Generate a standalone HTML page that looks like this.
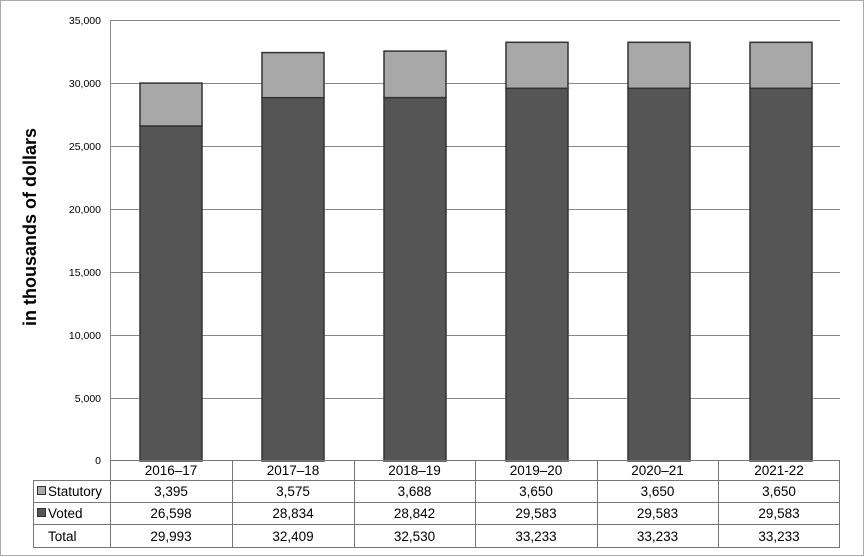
<!DOCTYPE html>
<html><head><style>body{margin:0;background:#fff}svg{display:block}text{font-family:"Liberation Sans",Arial,sans-serif;fill:#000}</style></head><body>
<svg width="864" height="557" xmlns="http://www.w3.org/2000/svg">
<rect x="0.5" y="0.5" width="863" height="555" fill="#fff" stroke="#aaa"/>
<g stroke="#888" stroke-width="1">
<line x1="110" y1="20.5" x2="840" y2="20.5"/>
<line x1="110" y1="83.5" x2="840" y2="83.5"/>
<line x1="110" y1="146.5" x2="840" y2="146.5"/>
<line x1="110" y1="209.5" x2="840" y2="209.5"/>
<line x1="110" y1="272.5" x2="840" y2="272.5"/>
<line x1="110" y1="335.5" x2="840" y2="335.5"/>
<line x1="110" y1="398.5" x2="840" y2="398.5"/>
<line x1="110.5" y1="20" x2="110.5" y2="461"/>
</g>
<g font-size="10.5" text-anchor="end">
<text x="101" y="24">35,000</text><text x="101" y="87">30,000</text><text x="101" y="150">25,000</text><text x="101" y="213">20,000</text><text x="101" y="276">15,000</text><text x="101" y="339">10,000</text><text x="101" y="402">5,000</text><text x="101" y="464">0</text>
</g>
<text x="36" y="227" font-size="18" font-weight="bold" text-anchor="middle" transform="rotate(-90 36 227)">in thousands of dollars</text>
<g stroke="#333" stroke-width="1.5">
<rect x="140" y="126" width="62" height="335" fill="#555"/><rect x="140" y="83.1" width="62" height="42.9" fill="#a8a8a8"/>
<rect x="262" y="97.7" width="62" height="363.3" fill="#555"/><rect x="262" y="52.6" width="62" height="45.1" fill="#a8a8a8"/>
<rect x="384" y="97.6" width="62" height="363.4" fill="#555"/><rect x="384" y="51.1" width="62" height="46.5" fill="#a8a8a8"/>
<rect x="506" y="88.3" width="62" height="372.7" fill="#555"/><rect x="506" y="42.3" width="62" height="46" fill="#a8a8a8"/>
<rect x="628" y="88.3" width="62" height="372.7" fill="#555"/><rect x="628" y="42.3" width="62" height="46" fill="#a8a8a8"/>
<rect x="750" y="88.3" width="62" height="372.7" fill="#555"/><rect x="750" y="42.3" width="62" height="46" fill="#a8a8a8"/>
</g>
<g stroke="#777" stroke-width="1" fill="none">
<line x1="110" y1="460.5" x2="840" y2="460.5"/>
<line x1="33" y1="480.5" x2="840" y2="480.5"/>
<line x1="33" y1="502.5" x2="840" y2="502.5"/>
<line x1="33" y1="524.5" x2="840" y2="524.5"/>
<line x1="33" y1="547.5" x2="840" y2="547.5"/>
<line x1="33.5" y1="480" x2="33.5" y2="548"/>
<line x1="110.5" y1="460" x2="110.5" y2="548"/>
<line x1="232.5" y1="460" x2="232.5" y2="548"/>
<line x1="354.5" y1="460" x2="354.5" y2="548"/>
<line x1="475.5" y1="460" x2="475.5" y2="548"/>
<line x1="597.5" y1="460" x2="597.5" y2="548"/>
<line x1="718.5" y1="460" x2="718.5" y2="548"/>
<line x1="839.5" y1="460" x2="839.5" y2="548"/>
</g>
<rect x="37.5" y="486.5" width="8" height="8" fill="#a8a8a8" stroke="#333"/>
<rect x="37.5" y="508.5" width="8" height="8" fill="#555" stroke="#333"/>
<g font-size="13.5">
<text x="48" y="496">Statutory</text><text x="48" y="518">Voted</text><text x="48" y="541">Total</text>
</g>
<g font-size="13.5" text-anchor="middle">
<text x="171" y="475">2016–17</text><text x="293" y="475">2017–18</text><text x="414.5" y="475">2018–19</text><text x="536" y="475">2019–20</text><text x="657.5" y="475">2020–21</text><text x="779" y="475">2021-22</text>
<text x="171" y="496">3,395</text><text x="293" y="496">3,575</text><text x="414.5" y="496">3,688</text><text x="536" y="496">3,650</text><text x="657.5" y="496">3,650</text><text x="779" y="496">3,650</text>
<text x="171" y="518">26,598</text><text x="293" y="518">28,834</text><text x="414.5" y="518">28,842</text><text x="536" y="518">29,583</text><text x="657.5" y="518">29,583</text><text x="779" y="518">29,583</text>
<text x="171" y="541">29,993</text><text x="293" y="541">32,409</text><text x="414.5" y="541">32,530</text><text x="536" y="541">33,233</text><text x="657.5" y="541">33,233</text><text x="779" y="541">33,233</text>
</g>
</svg>
</body></html>
